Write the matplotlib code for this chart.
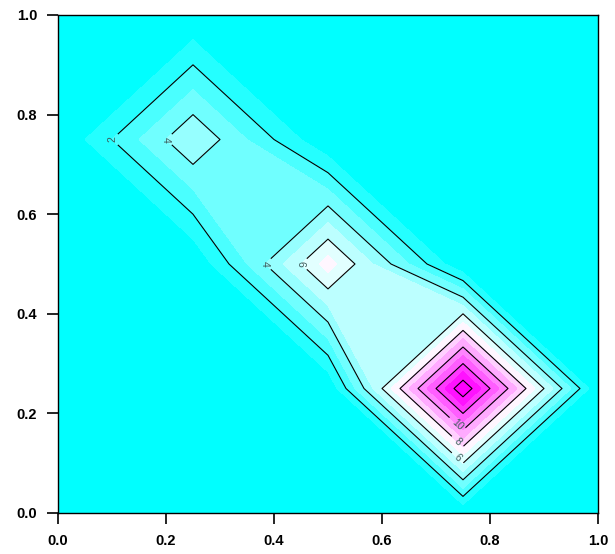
import numpy as np
import matplotlib.pyplot as plt
from matplotlib.colors import LinearSegmentedColormap

# grid and values (rows follow y, columns follow x)
x = [0.0, 0.25, 0.5, 0.75, 1.0]
y = [0.0, 0.25, 0.5, 0.75, 1.0]
z = [[0, 0, 0, 0, 0],
     [0, 0, 0, 15, 0],
     [0, 0, 7.5, 0, 0],
     [0, 5, 0, 0, 0],
     [0, 0, 0, 0, 0]]

fill_levels = list(range(0, 16))
line_levels = [2, 4, 6, 8, 10, 12, 14]
label_levels = [2, 4, 6, 8, 10]
label_spots = [(0.1, 0.75), (0.19, 0.75), (0.38, 0.5), (0.45, 0.5),
               (0.74, 0.11), (0.74, 0.143), (0.74, 0.177)]

plt.rcParams['font.family'] = ['Liberation Sans', 'DejaVu Sans']

cmap = LinearSegmentedColormap.from_list('cwm', ['#00ffff', '#ffffff', '#ff00ff'])

fig = plt.figure(figsize=(6.15, 5.54), dpi=100)
ax = fig.add_axes([58 / 615, 1 - 513 / 554, 540 / 615, 498 / 554])

X, Y = np.meshgrid(x, y)
Z = np.array(z, dtype=float)

ax.contourf(X, Y, Z, levels=fill_levels, cmap=cmap, vmin=0.5, vmax=14.0)
cs = ax.contour(X, Y, Z, levels=line_levels, colors='black', linewidths=0.8)
ax.clabel(cs, levels=label_levels, manual=label_spots, inline=True,
          fontsize=7.5, fmt='%d', colors='#3a5a5a')

ax.set_xlim(0, 1)
ax.set_ylim(0, 1)
ax.set_xticks([0, 0.2, 0.4, 0.6, 0.8, 1.0])
ax.set_yticks([0, 0.2, 0.4, 0.6, 0.8, 1.0])
ax.tick_params(direction='out', length=8, width=1.2, labelsize=10.5, pad=7)
for lab in ax.get_xticklabels() + ax.get_yticklabels():
    lab.set_fontweight('bold')
for sp in ax.spines.values():
    sp.set_linewidth(1.0)

fig.savefig('out.png', dpi=100)
